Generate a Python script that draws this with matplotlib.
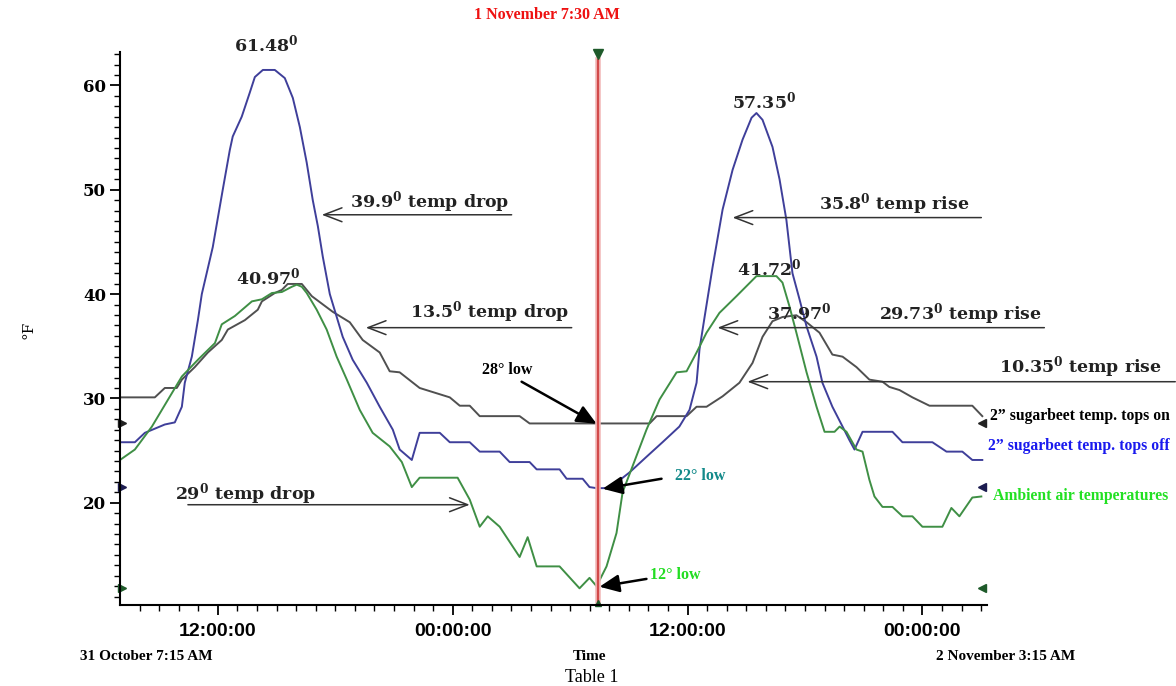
import matplotlib
matplotlib.use('Agg')
import matplotlib.pyplot as plt
import numpy as np

plt.rcParams['mathtext.fontset'] = 'dejavuserif'

# hours counted from 31 October 00:00
tops_on_h = [7.0, 8.78, 9.29, 9.90, 10.16, 10.82, 11.49, 12.20, 12.51, 13.38, 14.04, 14.25,
             14.91, 15.27, 15.57, 16.29, 16.80, 17.87, 18.74, 19.40, 20.27, 20.78, 21.29,
             22.31, 23.85, 24.36, 24.87, 25.38, 27.42, 27.93, 31.35, 34.06, 34.42, 35.95,
             36.46, 36.97, 37.79, 38.65, 39.32, 39.83, 40.34, 40.85, 41.56, 42.08, 42.74,
             43.40, 43.92, 44.63, 45.29, 45.96, 46.31, 46.83, 47.49, 48.36, 50.55, 51.06]
tops_on_f = [30.1, 30.1, 31.0, 31.0, 31.8, 33.0, 34.4, 35.6, 36.6, 37.5, 38.5, 39.3,
             40.1, 40.4, 40.97, 40.97, 39.8, 38.3, 37.3, 35.6, 34.4, 32.6, 32.5,
             31.0, 30.1, 29.3, 29.3, 28.3, 28.3, 27.6, 27.6, 27.6, 28.3, 28.3,
             29.2, 29.2, 30.2, 31.5, 33.4, 35.9, 37.4, 37.8, 37.97, 37.3, 36.3,
             34.2, 34.0, 33.0, 31.8, 31.6, 31.1, 30.8, 30.1, 29.3, 29.3, 28.3]

tops_off_h = [7.0, 7.76, 8.27, 9.29, 9.80, 10.16, 10.31, 10.67, 10.98, 11.18, 11.74, 12.25,
              12.61, 12.76, 13.22, 13.63, 13.89, 14.30, 14.91, 15.42, 15.83, 16.19, 16.54,
              16.85, 17.11, 17.36, 17.72, 18.38, 18.89, 19.61, 20.27, 20.94, 21.29, 21.91,
              22.31, 23.34, 23.85, 24.87, 25.38, 26.40, 26.91, 27.93, 28.29, 29.46, 29.82,
              30.64, 30.99, 31.35, 32.01, 33.03, 33.90, 34.72, 35.58, 36.10, 36.46, 36.61,
              36.87, 37.28, 37.79, 38.30, 38.81, 39.27, 39.52, 39.83, 40.34, 40.70, 41.05,
              41.36, 41.72, 42.08, 42.59, 42.89, 43.40, 43.92, 44.27, 44.53, 44.94, 46.47,
              46.98, 48.51, 49.23, 50.04, 50.55, 51.06]
tops_off_f = [25.8, 25.8, 26.7, 27.5, 27.7, 29.2, 31.5, 34.0, 37.5, 40.0, 44.5, 50.0,
              53.8, 55.1, 57.0, 59.3, 60.8, 61.48, 61.48, 60.7, 58.8, 56.0, 52.6,
              49.0, 46.5, 43.6, 40.0, 35.9, 33.7, 31.5, 29.2, 27.0, 25.1, 24.1,
              26.7, 26.7, 25.8, 25.8, 24.9, 24.9, 23.9, 23.9, 23.2, 23.2, 22.3,
              22.3, 21.5, 21.4, 21.4, 22.9, 24.4, 25.8, 27.3, 28.9, 31.5, 34.7,
              37.8, 42.6, 48.1, 51.9, 54.8, 56.9, 57.35, 56.7, 54.1, 51.0, 47.1,
              42.0, 39.5, 36.9, 34.0, 31.5, 29.2, 27.3, 26.0, 25.1, 26.8, 26.8,
              25.8, 25.8, 24.9, 24.9, 24.1, 24.1]

ambient_h = [7.0, 7.76, 8.63, 9.14, 10.16, 10.98, 11.85, 12.20, 12.87, 13.74, 14.25, 14.76,
             15.27, 15.78, 16.03, 16.29, 16.54, 17.05, 17.56, 18.07, 18.59, 19.25, 19.91,
             20.78, 21.40, 21.91, 22.31, 24.25, 24.87, 25.38, 25.79, 26.40, 27.42, 27.83,
             28.29, 29.46, 30.48, 30.99, 31.35, 31.86, 32.37, 32.68, 33.19, 33.90, 34.57,
             35.44, 35.95, 36.46, 36.97, 37.63, 38.50, 39.52, 40.54, 40.85, 41.21, 41.56,
             42.08, 42.59, 43.00, 43.51, 43.77, 44.12, 44.63, 44.94, 45.29, 45.55, 45.96,
             46.47, 46.98, 47.49, 48.00, 49.02, 49.48, 49.89, 50.55, 51.01]
ambient_f = [24.1, 25.1, 27.3, 28.9, 32.1, 33.7, 35.3, 37.1, 37.9, 39.3, 39.5, 40.1,
             40.2, 40.7, 40.9, 40.7, 40.1, 38.5, 36.6, 34.0, 31.8, 28.9, 26.7,
             25.4, 23.9, 21.5, 22.4, 22.4, 20.3, 17.7, 18.7, 17.7, 14.8, 16.7,
             13.9, 13.9, 11.8, 12.8, 12.0, 13.9, 17.1, 21.0, 23.5, 27.0, 29.9,
             32.5, 32.6, 34.4, 36.3, 38.2, 39.8, 41.72, 41.72, 41.1, 38.8, 36.3,
             32.5, 29.2, 26.8, 26.8, 27.3, 26.8, 25.1, 24.9, 22.2, 20.6, 19.6,
             19.6, 18.7, 18.7, 17.7, 17.7, 19.5, 18.7, 20.5, 20.6]

cursor_h = 31.4
cursor_vals = [27.6, 21.5, 11.8]
cursor_cols = ['#222222', '#1c1c50', '#1e5a2a']

xtick_pos = [12, 24, 36, 48]
xtick_lab = ['12:00:00', '00:00:00', '12:00:00', '00:00:00']
ytick_pos = [20, 30, 40, 50, 60]

C_ON = '#505050'
C_OFF = '#3f3f9a'
C_AMB = '#3f8f45'

W, H = 1176, 686
DEG = r'$^{\mathbf{0}}$'


def px(x, y):
    return x / W, 1 - y / H


fig = plt.figure(figsize=(11.76, 6.86), dpi=100)
ax = fig.add_axes([120 / W, (H - 605) / H, 867 / W, 553 / H])

ax.plot(tops_on_h, tops_on_f, color=C_ON, lw=1.4)
ax.plot(tops_off_h, tops_off_f, color=C_OFF, lw=1.4)
ax.plot(ambient_h, ambient_f, color=C_AMB, lw=1.4)

# cursor line
ax.axvline(cursor_h, ymax=0.985, color='#f2b8b8', lw=4)
ax.axvline(cursor_h, ymax=0.985, color='#d24a4a', lw=1.6)
ax.plot(cursor_h, 63.0, marker='v', color='#1e5a2a', ms=7, clip_on=False)
ax.plot(cursor_h, 10.35, marker='^', color='#1e5a2a', ms=5, clip_on=False)
for v, c in zip(cursor_vals, cursor_cols):
    ax.plot(7.12, v, marker='>', color=c, ms=6, clip_on=False)
    ax.plot(51.07, v, marker='<', color=c, ms=6, clip_on=False)

ax.set_xlim(7.0, 51.3)
ax.set_ylim(10.2, 63.2)
ax.set_xticks(xtick_pos)
ax.set_xticklabels(xtick_lab, family='Liberation Sans', fontweight='bold', fontsize=14)
ax.set_xticks(np.arange(8, 52, 1), minor=True)
ax.set_yticks(ytick_pos)
ax.set_yticklabels([str(v) for v in ytick_pos], family='DejaVu Serif', fontweight='bold', fontsize=12)
ax.set_yticks(np.arange(11, 64, 1), minor=True)
ax.tick_params(which='major', length=7, width=1.3, direction='out')
ax.tick_params(which='minor', length=4, width=1.0, direction='out')
ax.tick_params(axis='x', which='major', pad=6)
ax.tick_params(axis='y', which='major', pad=3)
for s in ['top', 'right']:
    ax.spines[s].set_visible(False)
for s in ['left', 'bottom']:
    ax.spines[s].set_linewidth(1.5)

SERIF_B = dict(family=['DejaVu Serif'], fontweight='bold', fontsize=12.5, color='#222222')
open_arrow = dict(arrowstyle='->,head_length=0.65,head_width=0.25', color='#333333', lw=1.1,
                  mutation_scale=20, shrinkA=0, shrinkB=0)
fill_arrow = dict(arrowstyle='-|>,head_length=0.6,head_width=0.27', color='black', lw=1.8,
                  mutation_scale=20, shrinkA=0, shrinkB=0)

# peak values
ax.text(14.45, 63.9, '61.48' + DEG, ha='center', va='center', clip_on=False, **SERIF_B)
ax.text(14.55, 41.6, '40.97' + DEG, ha='center', va='center', **SERIF_B)
ax.text(39.93, 58.45, '57.35' + DEG, ha='center', va='center', **SERIF_B)
ax.text(40.19, 42.5, '41.72' + DEG, ha='center', va='center', **SERIF_B)
ax.text(41.72, 38.2, '37.97' + DEG, ha='center', va='center', **SERIF_B)

# drops and rises
ax.text(18.74, 48.86, '39.9' + DEG + ' temp drop', ha='left', va='center', **SERIF_B)
ax.annotate('', xy=(17.31, 47.6), xytext=(27.01, 47.6), arrowprops=open_arrow)
ax.text(21.80, 38.31, '13.5' + DEG + ' temp drop', ha='left', va='center', **SERIF_B)
ax.annotate('', xy=(19.56, 36.78), xytext=(30.08, 36.78), arrowprops=open_arrow)
ax.text(9.80, 20.86, '29' + DEG + ' temp drop', ha='left', va='center', **SERIF_B)
ax.annotate('', xy=(24.87, 19.81), xytext=(10.47, 19.81), arrowprops=open_arrow)
ax.text(42.74, 47.4, '35.8' + DEG + ' temp rise', ha='left', va='bottom', **SERIF_B)
ax.annotate('', xy=(38.30, 47.33), xytext=(51.01, 47.33), arrowprops=open_arrow)
ax.text(45.80, 38.12, '29.73' + DEG + ' temp rise', ha='left', va='center', clip_on=False, **SERIF_B)
ax.annotate('', xy=(37.53, 36.78), xytext=(54.23, 36.78), arrowprops=open_arrow)
ax.text(51.93, 33.04, '10.35' + DEG + ' temp rise', ha='left', va='center', clip_on=False, **SERIF_B)
ax.annotate('', xy=(39.06, 31.6), xytext=(60.92, 31.6), arrowprops=open_arrow)

# lows at the cursor
LOW = dict(family='Liberation Serif', fontweight='bold', fontsize=11.5)
ax.text(25.48, 32.75, '28° low', ha='left', va='center', color='black', **LOW)
ax.annotate('', xy=(31.35, 27.57), xytext=(27.52, 31.6), arrowprops=fill_arrow)
ax.text(35.34, 22.59, '22° low', ha='left', va='center', color='#138a8a', **LOW)
ax.annotate('', xy=(31.66, 21.34), xytext=(34.67, 22.3), arrowprops=fill_arrow)
ax.text(34.06, 13.1, '12° low', ha='left', va='center', color='#22dd22', **LOW)
ax.annotate('', xy=(31.5, 11.95), xytext=(33.9, 12.7), arrowprops=fill_arrow)

# series names on the right
NAME = dict(family='Liberation Serif', fontweight='bold', fontsize=11.3, ha='left', va='center')
fig.text(*px(990, 416), '2” sugarbeet temp. tops on', color='black', **NAME)
fig.text(*px(988, 446), '2” sugarbeet temp. tops off', color='#1a1aee', **NAME)
fig.text(*px(993, 496), 'Ambient air temperatures', color='#22e022', **NAME)

# outer labels
fig.text(*px(547, 15), '1 November 7:30 AM', color='#ee1111', family='Liberation Serif',
         fontweight='bold', fontsize=11.5, ha='center', va='center')
fig.text(*px(28, 330), '°F', rotation=90, family='DejaVu Serif', fontsize=11,
         ha='center', va='center')
BOT = dict(family='Liberation Serif', fontweight='bold', fontsize=11, va='center')
fig.text(*px(80, 657), '31 October 7:15 AM', ha='left', **BOT)
fig.text(*px(590, 657), 'Time', ha='center', **BOT)
fig.text(*px(1075, 657), '2 November 3:15 AM', ha='right', **BOT)
fig.text(*px(592, 677), 'Table 1', family='Liberation Serif', fontsize=13,
         ha='center', va='center')

fig.savefig('out.png', dpi=100)
